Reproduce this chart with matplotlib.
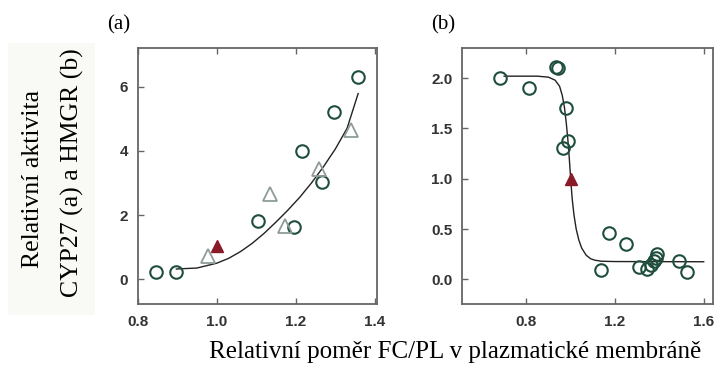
import matplotlib
matplotlib.use("Agg")
import matplotlib.pyplot as plt
from matplotlib.patches import Rectangle

# ---- Panel (a) data ----
a_circ_x = [0.846, 0.898, 1.105, 1.196, 1.216, 1.267, 1.296, 1.358]
a_circ_y = [0.23, 0.22, 1.80, 1.62, 4.00, 3.03, 5.20, 6.31]
a_tri_x = [0.977, 1.135, 1.173, 1.260, 1.340]
a_tri_y = [0.72, 2.65, 1.65, 3.42, 4.64]
a_red_x = [1.0]
a_red_y = [1.03]
a_fit_x = [0.898, 0.95, 1.00, 1.03, 1.06, 1.09, 1.12, 1.15, 1.18, 1.21, 1.24, 1.27, 1.30, 1.33, 1.358]
a_fit_y = [0.32, 0.35, 0.50, 0.65, 0.86, 1.12, 1.43, 1.78, 2.15, 2.55, 3.00, 3.50, 4.05, 4.70, 5.78]
a_xticks = [0.8, 1.0, 1.2, 1.4]
a_yticks = [0, 2, 4, 6]

# ---- Panel (b) data ----
b_circ_x = [0.680, 0.812, 0.935, 0.942, 0.980, 0.965, 0.990, 1.137, 1.171, 1.249,
            1.309, 1.346, 1.362, 1.376, 1.384, 1.391, 1.489, 1.526]
b_circ_y = [2.00, 1.905, 2.11, 2.10, 1.70, 1.31, 1.38, 0.095, 0.46, 0.35,
            0.12, 0.10, 0.14, 0.18, 0.21, 0.25, 0.185, 0.075]
b_red_x = [1.0]
b_red_y = [1.0]
b_fit_x = [0.70, 0.85, 0.90, 0.93, 0.95, 0.962, 0.972, 0.98, 0.987, 0.994, 1.0,
           1.007, 1.015, 1.025, 1.037, 1.05, 1.07, 1.09, 1.11, 1.14, 1.20, 1.60]
b_fit_y = [2.02, 2.02, 2.01, 1.98, 1.92, 1.83, 1.71, 1.56, 1.40, 1.20, 1.00,
           0.80, 0.64, 0.50, 0.39, 0.31, 0.24, 0.205, 0.19, 0.18, 0.177, 0.175]
b_xticks = [0.8, 1.2, 1.6]
b_yticks = [0.0, 0.5, 1.0, 1.5, 2.0]

green = "#1f4f3c"
grey_tri = "#8e9c97"
red = "#8a1a28"
spine_c = "#666666"
tick_c = "#333333"

fig = plt.figure(figsize=(7.15, 3.69), dpi=100)
fig.patch.set_facecolor("white")

# faint background box behind the y label
fig.patches.append(Rectangle((8 / 715, 1 - 315 / 369), 87 / 715, 272 / 369,
                             transform=fig.transFigure, facecolor="#f9f9f6",
                             edgecolor="none", zorder=0))

ax_a = fig.add_axes([137.7 / 715, 1 - 304 / 369, 239 / 715, 256 / 369])
ax_b = fig.add_axes([462.0 / 715, 1 - 304 / 369, 251 / 715, 256 / 369])

ms = 9
mew = 1.5

# Panel a
ax_a.plot(a_fit_x, a_fit_y, color="#222222", lw=1.0, zorder=2)
ax_a.plot(a_circ_x, a_circ_y, "o", ms=ms, mfc="none", mec=green, mew=mew, zorder=3)
ax_a.plot(a_tri_x, a_tri_y, "^", ms=ms + 0.5, mfc="none", mec=grey_tri, mew=1.3, zorder=3)
ax_a.plot(a_red_x, a_red_y, "^", ms=ms, mfc=red, mec=red, mew=1.0, zorder=4)
ax_a.set_xlim(0.8, 1.405)
ax_a.set_ylim(-0.77, 7.2)
ax_a.set_xticks(a_xticks)
ax_a.set_xticklabels([f"{v:.1f}" for v in a_xticks])
ax_a.set_yticks(a_yticks)
ax_a.set_yticklabels([str(v) for v in a_yticks])

# Panel b
ax_b.plot(b_fit_x, b_fit_y, color="#222222", lw=1.0, zorder=2)
ax_b.plot(b_circ_x, b_circ_y, "o", ms=ms, mfc="none", mec=green, mew=mew, zorder=3)
ax_b.plot(b_red_x, b_red_y, "^", ms=ms, mfc=red, mec=red, mew=1.0, zorder=4)
ax_b.set_xlim(0.51, 1.642)
ax_b.set_ylim(-0.245, 2.30)
ax_b.set_xticks(b_xticks)
ax_b.set_xticklabels([f"{v:.1f}" for v in b_xticks])
ax_b.set_yticks(b_yticks)
ax_b.set_yticklabels([f"{v:.1f}" for v in b_yticks])

for ax in (ax_a, ax_b):
    for s in ax.spines.values():
        s.set_color(spine_c)
        s.set_linewidth(1.3)
    ax.tick_params(axis="both", direction="in", length=4, width=1.0,
                   color=spine_c, labelcolor=tick_c, labelsize=11, pad=7)
    ax.tick_params(axis="x", top=True, pad=8)
    for lab in ax.get_xticklabels() + ax.get_yticklabels():
        lab.set_fontweight("bold")
        lab.set_family("Liberation Sans")

serif = "Liberation Serif"
fig.text(119 / 715, 1 - 25 / 369, "(a)", family=serif, fontsize=15, ha="center", va="center")
fig.text(443 / 715, 1 - 25 / 369, "(b)", family=serif, fontsize=15, ha="center", va="center")
fig.text(33 / 715, 1 - 179 / 369, "Relativní aktivita", family=serif, fontsize=18.5,
         rotation=90, ha="center", va="center")
fig.text(72 / 715, 1 - 173 / 369, "CYP27 (a) a HMGR (b)", family=serif, fontsize=18.5,
         rotation=90, ha="center", va="center")
fig.text(455 / 715, 1 - 352 / 369, "Relativní poměr FC/PL v plazmatické membráně",
         family=serif, fontsize=18, ha="center", va="center")

fig.savefig("out.png", dpi=100, facecolor="white")
